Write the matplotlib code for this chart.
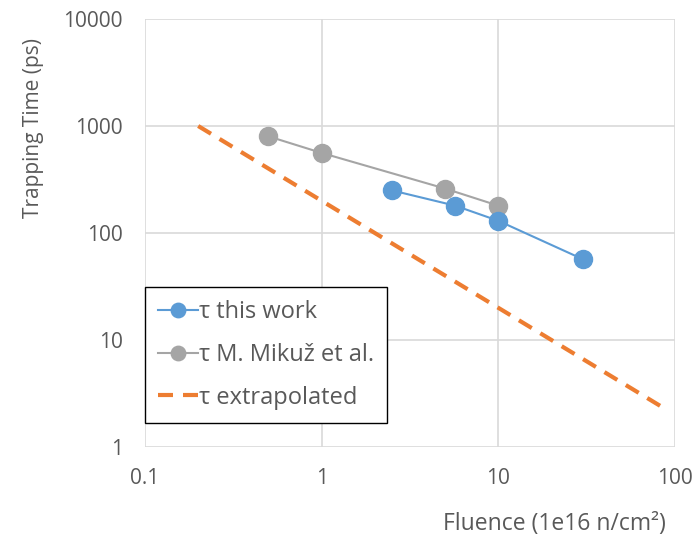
import matplotlib
matplotlib.use("Agg")
import matplotlib.pyplot as plt

# Data
fluence_this = [2.5, 5.7, 10, 30]
tau_this = [250, 180, 130, 57]
fluence_mikuz = [0.5, 1, 5, 10]
tau_mikuz = [800, 560, 260, 180]
fluence_extrap = [0.2, 90]
tau_extrap = [1000, 2.22]
x_ticks = [0.1, 1, 10, 100]
x_ticklabels = ["0.1", "1", "10", "100"]
y_ticks = [1, 10, 100, 1000, 10000]
y_ticklabels = ["1", "10", "100", "1000", "10000"]

plt.rcParams['font.family'] = ['Open Sans', 'DejaVu Sans']
txt = '#595959'
W, H = 693, 539

fig = plt.figure(figsize=(W/100, H/100), dpi=100)
ax = fig.add_axes([145/W, 1-447/H, 530/W, 428/H])

ax.plot(fluence_this, tau_this, '-o', color='#5B9BD5', lw=1.5, ms=13, label='τ this work', zorder=4)
ax.plot(fluence_mikuz, tau_mikuz, '-o', color='#A5A5A5', lw=1.5, ms=13, label='τ M. Mikuž et al.', zorder=3)
ax.plot(fluence_extrap, tau_extrap, '--', color='#ED7D31', lw=3, dashes=(3.6, 2.4), label='τ extrapolated', zorder=2)

ax.set_xscale('log')
ax.set_yscale('log')
ax.set_xlim(0.1, 100)
ax.set_ylim(1, 10000)
ax.set_xticks(x_ticks)
ax.set_xticklabels(x_ticklabels)
ax.set_yticks(y_ticks)
ax.set_yticklabels(y_ticklabels)
ax.minorticks_off()
ax.tick_params(length=0, labelsize=15, labelcolor=txt)
ax.tick_params(axis='y', pad=16)
ax.tick_params(axis='x', pad=15)
for s in ax.spines.values():
    s.set_visible(False)
ax.grid(True, which='major', color='#D9D9D9', lw=1.2)
ax.set_axisbelow(True)

fig.text(34/W, 1-128/H, 'Trapping Time (ps)', fontsize=15, color=txt,
         rotation=90, ha='center', va='center')
fig.text(666/W, 1-524/H, 'Fluence (1e16 n/cm²)', fontsize=16.5, color=txt,
         ha='right', va='center')

leg = ax.legend(loc='upper left', bbox_to_anchor=(145/W, 1-287/H), bbox_transform=fig.transFigure,
                fontsize=17, frameon=True, fancybox=False, edgecolor='black', framealpha=1,
                handlelength=1.7, handletextpad=0.05, borderpad=0.55, labelspacing=0.8,
                borderaxespad=0, markerscale=0.8)
leg.get_frame().set_linewidth(1)
for t in leg.get_texts():
    t.set_color(txt)

fig.savefig('out.png', dpi=100)
